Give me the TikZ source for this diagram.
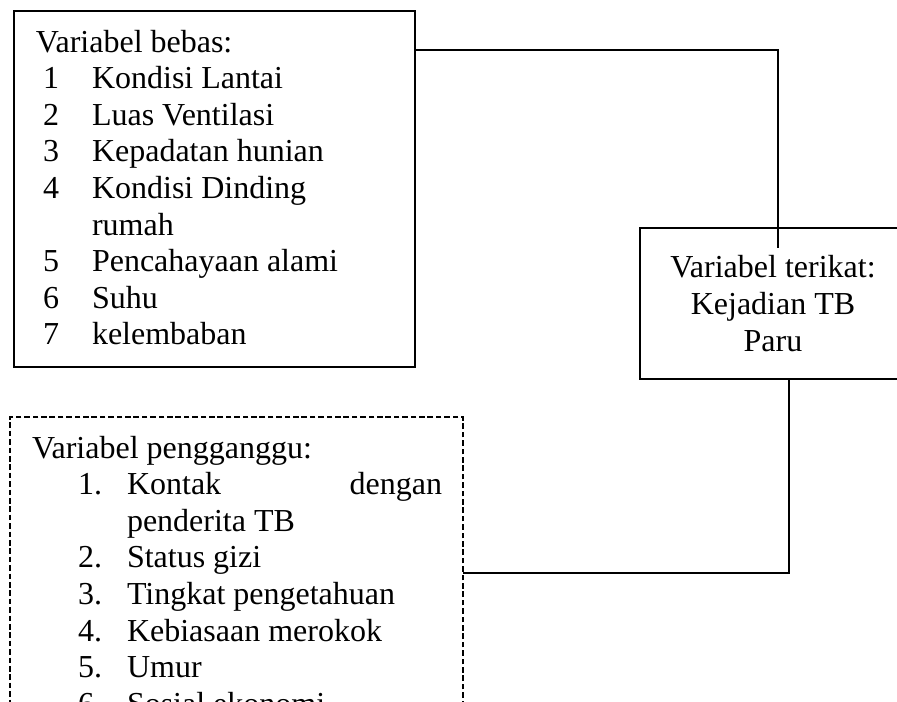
\documentclass[tikz,border=0pt]{standalone}
\usepackage{fontspec}
\setmainfont{Liberation Serif}
\begin{document}
\begin{tikzpicture}[x=0.75pt,y=-0.75pt,
  solidbox/.style={draw=black, line width=2.2pt, rectangle, anchor=north west, inner sep=0pt, outer sep=0pt},
  dashbox/.style={draw=black, line width=1.8pt, dash pattern=on 4.2pt off 2.1pt, rectangle, anchor=north west, inner sep=0pt, outer sep=0pt},
  conn/.style={draw=black, line width=1.1pt},
  txt/.style={inner sep=0pt, outer sep=0pt, anchor=base west, font=\fontsize{24pt}{27.5pt}\selectfont},
  ctxt/.style={inner sep=0pt, outer sep=0pt, anchor=base, font=\fontsize{24pt}{27.5pt}\selectfont},
  rtxt/.style={inner sep=0pt, outer sep=0pt, anchor=base east, font=\fontsize{24pt}{27.5pt}\selectfont}]
\useasboundingbox (0,0) rectangle (897,701);

% boxes
\node[solidbox, minimum width=300.75pt, minimum height=267pt] (b1) at (14,11) {};
\node[solidbox, minimum width=199.5pt, minimum height=113.25pt] (b2) at (640,228) {};
\node[dashbox, minimum width=339.75pt, minimum height=230pt] (b3) at (10,417) {};

% box 1 text
\node[txt] (a0) at (36,52) {Variabel bebas:};
\node[txt] (n1) at (43,88.6) {1};
\node[txt] (a1) at (92,88.6) {Kondisi Lantai};
\node[txt] (n2) at (43,125.2) {2};
\node[txt] (a2) at (92,125.2) {Luas Ventilasi};
\node[txt] (n3) at (43,161.8) {3};
\node[txt] (a3) at (92,161.8) {Kepadatan hunian};
\node[txt] (n4) at (43,198.4) {4};
\node[txt] (a4) at (92,198.4) {Kondisi Dinding};
\node[txt] (a4b) at (92,235) {rumah};
\node[txt] (n5) at (43,271.6) {5};
\node[txt] (a5) at (92,271.6) {Pencahayaan alami};
\node[txt] (n6) at (43,308.2) {6};
\node[txt] (a6) at (92,308.2) {Suhu};
\node[txt] (n7) at (43,344.8) {7};
\node[txt] (a7) at (92,344.8) {kelembaban};

% box 2 text
\node[ctxt] (r1) at (773,277) {Variabel terikat:};
\node[ctxt] (r2) at (773,314) {Kejadian TB};
\node[ctxt] (r3) at (773,351.5) {Paru};

% box 3 text
\node[txt] (c0) at (32,458) {Variabel pengganggu:};
\node[txt] (m1) at (78,494.6) {1.};
\node[txt] (c1) at (127,494.6) {Kontak};
\node[rtxt] (c1r) at (442,494.6) {dengan};
\node[txt] (c1b) at (127,531.2) {penderita TB};
\node[txt] (m2) at (78,567.8) {2.};
\node[txt] (c2) at (127,567.8) {Status gizi};
\node[txt] (m3) at (78,604.4) {3.};
\node[txt] (c3) at (127,604.4) {Tingkat pengetahuan};
\node[txt] (m4) at (78,641) {4.};
\node[txt] (c4) at (127,641) {Kebiasaan merokok};
\node[txt] (m5) at (78,677.6) {5.};
\node[txt] (c5) at (127,677.6) {Umur};
\node[txt] (m6) at (78,714.2) {6.};
\node[txt] (c6) at (127,714.2) {Sosial ekonomi};

% connectors
\coordinate (j1) at (778,50);
\coordinate (e1) at (778,248);
\draw[conn] (b1.east |- j1) -- (j1) -- (e1);
\coordinate (j2) at (789,573);
\draw[conn] (b2.south -| j2) -- (j2) -- (b3.east |- j2);
\end{tikzpicture}
\end{document}
